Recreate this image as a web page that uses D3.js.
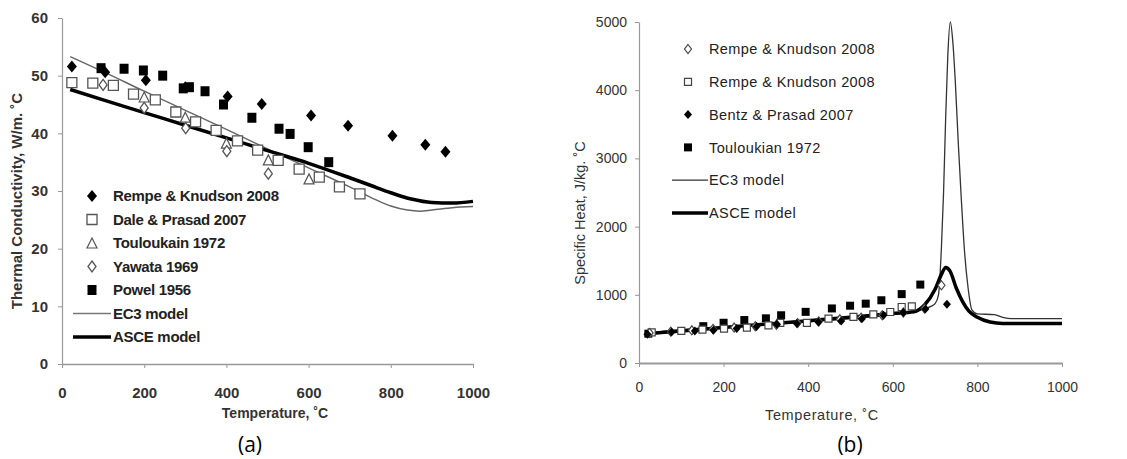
<!DOCTYPE html>
<html>
<head>
<meta charset="utf-8">
<script src="https://cdnjs.cloudflare.com/ajax/libs/d3/7.8.5/d3.min.js"></script>
<style>
  body { margin: 0; background: #fff; }
  svg { display: block; font-family: "Liberation Sans", Arial, sans-serif; }
  .axis path, .axis line { stroke: #999; }
  .caption { font-family: "Open Sans", "Noto Sans", sans-serif; font-size: 21px; fill: #000; }
</style>
</head>
<body>
<div id="vis"></div>
<script>
// ---------- data: (a) thermal conductivity ----------
var tempTicks = [0, 200, 400, 600, 800, 1000];
var kTicks = [0, 10, 20, 30, 40, 50, 60];

var rempeK = [[24,51.6],[105,50.6],[204,49.2],[300,48.0],[403,46.4],[486,45.1],[606,43.1],[696,41.3],[804,39.6],[884,38.0],[933,36.8]];
var daleK = [[24,48.8],[75,48.7],[125,48.3],[174,46.8],[227,45.8],[277,43.7],[325,42.0],[375,40.5],[427,38.7],[476,37.1],[526,35.3],[577,33.8],[626,32.4],[675,30.7],[725,29.5]];
var toulK = [[200,46.3],[300,42.8],[400,38.3],[502,35.4],[601,32.1]];
var yawataK = [[100,48.4],[200,44.4],[301,40.9],[401,36.9],[502,33.0]];
var powelK = [[95,51.3],[151,51.2],[198,50.9],[245,50.0],[295,47.8],[310,48.0],[348,47.3],[393,45.0],[462,42.7],[528,40.8],[555,39.9],[599,37.6],[649,35.0]];
var ec3K = [[20,53.3],[100,50.7],[200,47.3],[300,44.0],[400,40.7],[500,37.3],[600,34.0],[700,30.7],[760,28.6],[800,27.4],[840,26.7],[870,26.5],[900,26.7],[950,27.1],[1000,27.3]];
var asceK = [[20,47.6],[100,45.8],[200,43.6],[300,41.4],[400,39.2],[500,37.0],[600,34.8],[700,32.3],[750,31.0],[800,29.7],[850,28.6],[900,28.0],[950,27.9],[1000,28.2]];

// ---------- data: (b) specific heat ----------
var cTicks = [0, 1000, 2000, 3000, 4000, 5000];

var rempeDiamC = [[25,440],[75,460],[125,480],[175,500],[225,520],[275,540],[325,560],[375,585],[425,610],[475,640],[525,665],[575,700],[625,740],[675,800],[715,1140]];
var rempeSqC = [[30,450],[100,470],[150,490],[201,503],[255,518],[306,552],[334,587],[397,587],[448,650],[507,675],[554,714],[594,748],[621,821],[645,831]];
var bentzC = [[20,420],[77,455],[132,470],[176,480],[231,505],[278,535],[326,570],[373,580],[424,600],[478,615],[527,650],[578,700],[625,740],[677,790],[728,860]];
var toulC = [[22,430],[152,540],[200,590],[249,630],[300,655],[336,700],[394,750],[456,800],[499,840],[536,870],[573,920],[621,1010],[665,1150]];
var ec3C = [[20,440],[100,488],[200,530],[300,565],[400,605],[500,650],[600,710],[650,760],[690,830],[700,870],[708,1000],[715,1700],[720,2500],[725,3600],[730,4500],[736,5000],[742,4700],[748,4100],[755,3200],[762,2400],[770,1600],[778,1100],[787,780],[800,720],[840,710],[860,670],[880,650],[1000,650]];
var asceC = [[20,430],[100,470],[200,520],[300,570],[400,620],[500,670],[600,725],[650,750],[675,850],[700,1080],[715,1300],[725,1400],[735,1350],[750,1100],[765,900],[780,760],[800,670],[830,600],[860,580],[1000,580]];

var svg = d3.select('#vis')
    .append('svg')
    .attr('width', 1127)
    .attr('height', 459);

var fmt = d3.format('d');

// custom marker shapes (w, h = full size in px)
function shape(type, w, h) {
    var a = w / 2, b = h / 2;
    if (type == 'diamond') return 'M0,' + (-b) + 'L' + a + ',0L0,' + b + 'L' + (-a) + ',0Z';
    if (type == 'square') return 'M' + (-a) + ',' + (-b) + 'h' + w + 'v' + h + 'h' + (-w) + 'Z';
    if (type == 'triangle') return 'M0,' + (-b) + 'L' + a + ',' + b + 'L' + (-a) + ',' + b + 'Z';
}

function drawMarkers(g, data, x, y, m) {
    g.append('g').selectAll('path')
        .data(data)
        .enter()
        .append('path')
        .attr('transform', function(d) { return 'translate(' + x(d[0]) + ',' + y(d[1]) + ')'; })
        .attr('d', shape(m.type, m.w, m.h))
        .attr('fill', m.fill)
        .attr('stroke', m.stroke)
        .attr('stroke-width', m.sw);
}

function drawLine(g, data, x, y, color, width) {
    var line = d3.line()
        .x(function(d) { return x(d[0]); })
        .y(function(d) { return y(d[1]); })
        .curve(d3.curveMonotoneX);
    g.append('path')
        .datum(data)
        .attr('d', line)
        .attr('fill', 'none')
        .attr('stroke', color)
        .attr('stroke-width', width)
        .attr('stroke-linejoin', 'round');
}

// =================== chart (a) ===================
var ga = svg.append('g');
var xa = d3.scaleLinear().domain([0, 1000]).range([62, 473]);
var ya = d3.scaleLinear().domain([0, 60]).range([364, 18]);

ga.append('g')
    .attr('class', 'axis')
    .attr('transform', 'translate(0,364)')
    .call(d3.axisBottom(xa).tickValues(tempTicks).tickFormat(fmt).tickSize(4).tickSizeOuter(0).tickPadding(19))
    .call(function(g) {
        g.select('.domain').attr('stroke-width', 1.5);
        g.selectAll('text').attr('font-size', 15).attr('font-weight', 'bold').attr('fill', '#333').attr('font-family', null);
    });

ga.append('g')
    .attr('class', 'axis')
    .attr('transform', 'translate(62,0)')
    .call(d3.axisLeft(ya).tickValues(kTicks).tickFormat(fmt).tickSize(4).tickSizeOuter(0).tickPadding(10))
    .call(function(g) {
        g.select('.domain').attr('stroke-width', 1.2);
        g.selectAll('text').attr('font-size', 15).attr('font-weight', 'bold').attr('fill', '#333').attr('font-family', null);
    });

drawLine(ga, ec3K, xa, ya, '#666', 1.4);
drawLine(ga, asceK, xa, ya, '#000', 3.5);

var mRempeK = {type: 'diamond', w: 10, h: 12, fill: '#000', stroke: 'none', sw: 0};
var mDaleK = {type: 'square', w: 10, h: 10, fill: '#fff', stroke: '#555', sw: 1.3};
var mToulK = {type: 'triangle', w: 10, h: 10, fill: '#fff', stroke: '#555', sw: 1.2};
var mYawataK = {type: 'diamond', w: 8, h: 11, fill: '#fff', stroke: '#555', sw: 1.3};
var mPowelK = {type: 'square', w: 9, h: 10, fill: '#000', stroke: 'none', sw: 0};

drawMarkers(ga, daleK, xa, ya, mDaleK);
drawMarkers(ga, toulK, xa, ya, mToulK);
drawMarkers(ga, yawataK, xa, ya, mYawataK);
drawMarkers(ga, powelK, xa, ya, mPowelK);
drawMarkers(ga, rempeK, xa, ya, mRempeK);

// legend (a)
var legA = [
    {label: 'Rempe & Knudson 2008', m: mRempeK},
    {label: 'Dale & Prasad 2007', m: mDaleK},
    {label: 'Touloukain 1972', m: mToulK},
    {label: 'Yawata 1969', m: mYawataK},
    {label: 'Powel 1956', m: mPowelK},
    {label: 'EC3 model', line: ['#777', 1.6]},
    {label: 'ASCE model', line: ['#000', 3.5]}
];
legA.forEach(function(d, i) {
    var yy = 196 + i * 23.5;
    if (d.m) {
        ga.append('path').attr('transform', 'translate(92,' + yy + ')')
            .attr('d', shape(d.m.type, d.m.w, d.m.h))
            .attr('fill', d.m.fill).attr('stroke', d.m.stroke).attr('stroke-width', d.m.sw);
    } else {
        ga.append('line').attr('x1', 73).attr('x2', 111).attr('y1', yy).attr('y2', yy)
            .attr('stroke', d.line[0]).attr('stroke-width', d.line[1]);
    }
    ga.append('text').attr('x', 113).attr('y', yy).attr('dy', '0.36em')
        .attr('font-size', 15).attr('font-weight', 'bold').attr('fill', '#222')
        .attr('letter-spacing', -0.3)
        .text(d.label);
});

ga.append('text')
    .attr('x', 275).attr('y', 418)
    .attr('text-anchor', 'middle')
    .attr('font-size', 14).attr('font-weight', 'bold').attr('fill', '#333')
    .text('Temperature, ˚C');

ga.append('text')
    .attr('transform', 'rotate(-90)')
    .attr('x', -201).attr('y', 22)
    .attr('text-anchor', 'middle')
    .attr('font-size', 15).attr('font-weight', 'bold').attr('fill', '#333')
    .text('Thermal Conductivity, W/m. ˚C');

ga.append('text').attr('class', 'caption')
    .attr('x', 250).attr('y', 452).attr('text-anchor', 'middle')
    .text('(a)');

// =================== chart (b) ===================
var gb = svg.append('g');
var xb = d3.scaleLinear().domain([0, 1000]).range([639, 1062]);
var yb = d3.scaleLinear().domain([0, 5000]).range([363, 22]);

gb.append('g')
    .attr('class', 'axis')
    .attr('transform', 'translate(0,363)')
    .call(d3.axisBottom(xb).tickValues(tempTicks).tickFormat(fmt).tickSize(4).tickSizeOuter(0).tickPadding(15))
    .call(function(g) {
        g.select('.domain').attr('stroke-width', 2);
        g.selectAll('text').attr('font-size', 14).attr('fill', '#333').attr('font-family', null);
    });

gb.append('g')
    .attr('class', 'axis')
    .attr('transform', 'translate(639,0)')
    .call(d3.axisLeft(yb).tickValues(cTicks).tickFormat(fmt).tickSize(4).tickSizeOuter(0).tickPadding(8))
    .call(function(g) {
        g.select('.domain').attr('stroke-width', 1.2);
        g.selectAll('text').attr('font-size', 14).attr('fill', '#333').attr('font-family', null);
    });

drawLine(gb, ec3C, xb, yb, '#333', 1.3);
drawLine(gb, asceC, xb, yb, '#000', 3.5);

var mRempeDiamC = {type: 'diamond', w: 7, h: 9, fill: '#fff', stroke: '#444', sw: 1.2};
var mRempeSqC = {type: 'square', w: 7, h: 7, fill: '#fff', stroke: '#444', sw: 1.2};
var mBentzC = {type: 'diamond', w: 8, h: 9, fill: '#000', stroke: 'none', sw: 0};
var mToulC = {type: 'square', w: 8, h: 8, fill: '#000', stroke: 'none', sw: 0};

drawMarkers(gb, toulC, xb, yb, mToulC);
drawMarkers(gb, rempeSqC, xb, yb, mRempeSqC);
drawMarkers(gb, rempeDiamC, xb, yb, mRempeDiamC);
drawMarkers(gb, bentzC, xb, yb, mBentzC);

// legend (b)
var legB = [
    {label: 'Rempe & Knudson 2008', m: mRempeDiamC},
    {label: 'Rempe & Knudson 2008', m: mRempeSqC},
    {label: 'Bentz & Prasad 2007', m: mBentzC},
    {label: 'Touloukian 1972', m: mToulC},
    {label: 'EC3 model', line: ['#333', 1.3]},
    {label: 'ASCE model', line: ['#000', 3.5]}
];
legB.forEach(function(d, i) {
    var yy = 49 + i * 32.8;
    if (d.m) {
        gb.append('path').attr('transform', 'translate(688,' + yy + ')')
            .attr('d', shape(d.m.type, d.m.w, d.m.h))
            .attr('fill', d.m.fill).attr('stroke', d.m.stroke).attr('stroke-width', d.m.sw);
    } else {
        gb.append('line').attr('x1', 672).attr('x2', 708).attr('y1', yy).attr('y2', yy)
            .attr('stroke', d.line[0]).attr('stroke-width', d.line[1]);
    }
    gb.append('text').attr('x', 709).attr('y', yy).attr('dy', '0.36em')
        .attr('font-size', 14.5).attr('fill', '#222')
        .attr('letter-spacing', 0.4)
        .text(d.label);
});

gb.append('text')
    .attr('x', 822).attr('y', 420)
    .attr('text-anchor', 'middle')
    .attr('font-size', 14.5).attr('fill', '#333')
    .attr('letter-spacing', 0.6)
    .text('Temperature, ˚C');

gb.append('text')
    .attr('transform', 'rotate(-90)')
    .attr('x', -213).attr('y', 585)
    .attr('text-anchor', 'middle')
    .attr('font-size', 14.5).attr('fill', '#333')
    .text('Specific Heat, J/kg. ˚C');

gb.append('text').attr('class', 'caption')
    .attr('x', 850).attr('y', 452).attr('text-anchor', 'middle')
    .text('(b)');
</script>
</body>
</html>
